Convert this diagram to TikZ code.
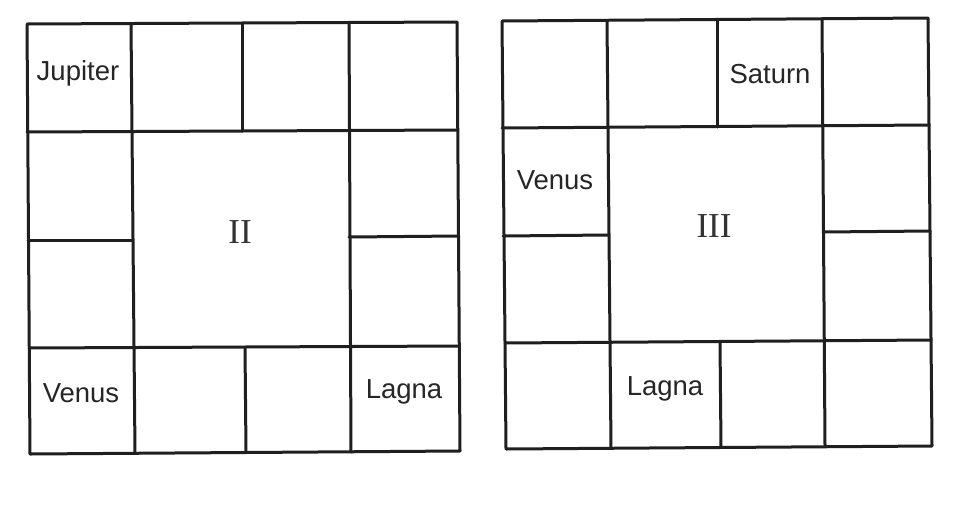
\documentclass[tikz,border=0pt]{standalone}
\usepackage{fontspec}
\setmainfont{Liberation Sans}
\newfontfamily\romfont{Liberation Serif}
\begin{document}
\begin{tikzpicture}[x=1pt,y=-1pt,
  gridline/.style={line width=3pt,line cap=round,line join=round,black!88},
  lbl/.style={font=\fontsize{27.5}{30}\selectfont,text=black!85,inner sep=0pt},
  rom/.style={font=\romfont\fontsize{35}{38}\selectfont,text=black!80,inner sep=0pt}]
\fill[white] (0,0) rectangle (960,520);
\useasboundingbox (0,0) rectangle (960,520);
% ---- left chart ----
\draw[gridline] (27,24) -- (457,22) -- (460,451) -- (30,454) -- cycle;
\draw[gridline] (27,132) -- (457,130);
\draw[gridline] (29,348) -- (459,346);
\draw[gridline] (28,240) -- (132,240);
\draw[gridline] (349,237) -- (458,236);
\draw[gridline] (131,24) -- (135,453);
\draw[gridline] (349,22) -- (351,452);
\draw[gridline] (242,23) -- (242,131);
\draw[gridline] (245,347) -- (246,452);
\node[lbl] (jup) at (78,73) {Jupiter};
\node[rom] (two) at (240,232) {II};
\node[lbl] (ven1) at (81,393) {Venus};
\node[lbl] (lag1) at (404,392) {Lagna};
% ---- right chart ----
\draw[gridline] (502,21) -- (928,18) -- (932,446) -- (506,449) -- cycle;
\draw[gridline] (502,128) -- (929,125);
\draw[gridline] (505,343) -- (931,340);
\draw[gridline] (503,236) -- (608,235);
\draw[gridline] (823,232) -- (930,231);
\draw[gridline] (607,21) -- (611,448);
\draw[gridline] (822,19) -- (825,446);
\draw[gridline] (717,20) -- (717,127);
\draw[gridline] (720,342) -- (721,447);
\node[lbl] (sat) at (770,74) {Saturn};
\node[lbl] (ven2) at (555,180) {Venus};
\node[rom] (three) at (714,226) {III};
\node[lbl] (lag2) at (665,389) {Lagna};
\end{tikzpicture}
\end{document}
